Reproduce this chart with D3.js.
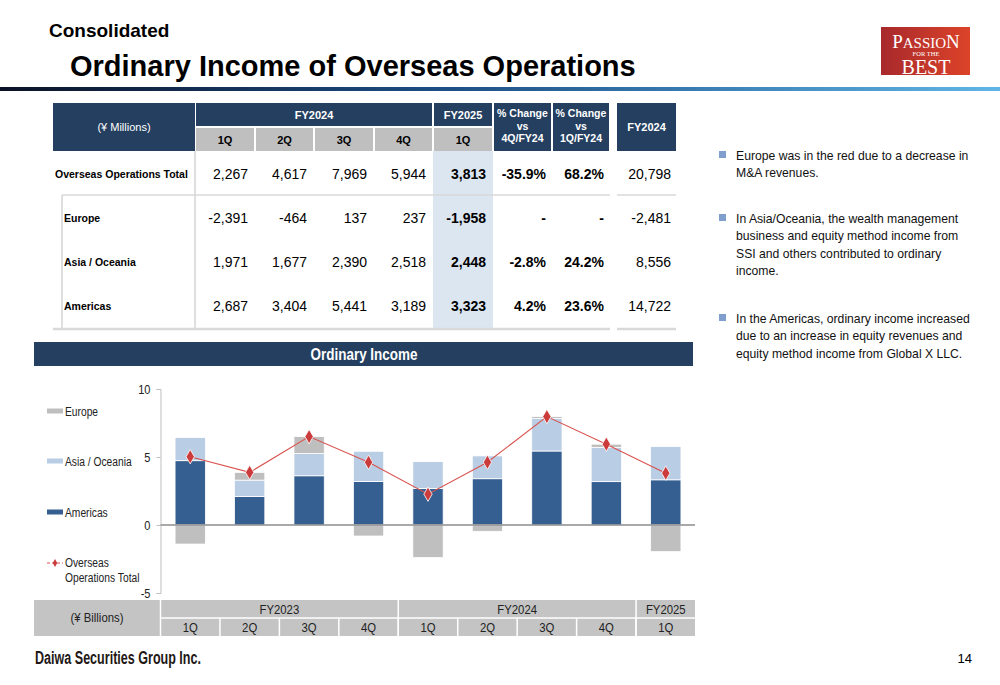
<!DOCTYPE html>
<html>
<head>
<meta charset="utf-8">
<script src="https://cdn.jsdelivr.net/npm/d3@7"></script>
<style>
  body { margin: 0; background: #fff; }
  svg text { font-family: "Liberation Sans", Arial, sans-serif; }
</style>
</head>
<body>
<script>
// ---- table data (¥ millions) ----
var tableRows = ["Overseas Operations Total", "Europe", "Asia / Oceania", "Americas"];
var rowTotal    = [2267, 4617, 7969, 5944, 3813];
var rowEurope   = [-2391, -464, 137, 237, -1958];
var rowAsia     = [1971, 1677, 2390, 2518, 2448];
var rowAmericas = [2687, 3404, 5441, 3189, 3323];
var chgVs4Q     = [-35.9, null, -2.8, 4.2];
var chgVs1Q     = [68.2, null, 24.2, 23.6];
var fy2024Full  = [20798, -2481, 8556, 14722];
var tableQuarters = ["1Q", "2Q", "3Q", "4Q"];

// ---- chart data (¥ billions) ----
var chartQuarters = ["1Q", "2Q", "3Q", "4Q", "1Q", "2Q", "3Q", "4Q", "1Q"];
var fiscalYears   = ["FY2023", "FY2024", "FY2025"];
var yearSpans     = [4, 4, 1];
var americas      = [4.73, 2.09, 3.62, 3.20, 2.687, 3.404, 5.441, 3.189, 3.323];
var asiaOceania   = [1.70, 1.21, 1.63, 2.22, 1.971, 1.677, 2.390, 2.518, 2.448];
var europe        = [-1.40, 0.57, 1.25, -0.81, -2.391, -0.464, 0.137, 0.237, -1.958];
var overseasTotal = [5.02, 3.87, 6.50, 4.61, 2.267, 4.617, 7.969, 5.944, 3.813];
var yTicks        = [10, 5, 0, -5];

var bullets = [
  ["Europe was in the red due to a decrease in", "M&A revenues."],
  ["In Asia/Oceania, the wealth management", "business and equity method income from", "SSI and others contributed to ordinary", "income."],
  ["In the Americas, ordinary income increased", "due to an increase in equity revenues and", "equity method income from Global X LLC."]
];

var navy = "#243F60", gray = "#BFBFBF";
var fmt = d3.formatLocale({decimal: ".", thousands: ",", grouping: [3], currency: ["", ""], minus: "-"});
var fmtInt = fmt.format(","), fmtPct = fmt.format(".1f");

// no narrow face installed, so squeeze the regular one
function narrow(sel, k) {
  sel.each(function() {
    var w = this.getComputedTextLength();
    d3.select(this).attr("textLength", w * (k || 0.82)).attr("lengthAdjust", "spacingAndGlyphs");
  });
}

var svg = d3.select("body").append("svg").attr("width", 1000).attr("height", 685);
var defs = svg.append("defs");

// ---- header ----
svg.append("text").attr("x", 49).attr("y", 37).attr("font-size", 19).attr("font-weight", "bold").text("Consolidated");
svg.append("text").attr("x", 70).attr("y", 76).attr("font-size", 29).attr("font-weight", "bold").text("Ordinary Income of Overseas Operations");

var g1 = defs.append("linearGradient").attr("id", "rule");
g1.append("stop").attr("offset", "0%").attr("stop-color", "#0a1228");
g1.append("stop").attr("offset", "45%").attr("stop-color", "#1d4f86");
g1.append("stop").attr("offset", "100%").attr("stop-color", "#5fb6e6");
svg.append("rect").attr("x", 0).attr("y", 87).attr("width", 1000).attr("height", 4).attr("fill", "url(#rule)");

var g2 = defs.append("linearGradient").attr("id", "logo");
g2.append("stop").attr("offset", "0%").attr("stop-color", "#a8292c");
g2.append("stop").attr("offset", "100%").attr("stop-color", "#dc4329");
svg.append("rect").attr("x", 881).attr("y", 27).attr("width", 89).attr("height", 48).attr("fill", "url(#logo)");
var logo = svg.append("g").attr("fill", "#fff").attr("text-anchor", "middle");
var l1 = logo.append("text").attr("x", 926).attr("y", 47.5).attr("font-size", 15).style("font-family", "'Liberation Serif', serif");
l1.append("tspan").attr("font-size", 19).text("P");
l1.append("tspan").text("ASSIO");
l1.append("tspan").attr("font-size", 19).text("N");
logo.append("text").attr("x", 926).attr("y", 56).attr("font-size", 6.5).style("font-family", "'Liberation Serif', serif").text("FOR THE");
logo.append("text").attr("x", 926).attr("y", 73.5).attr("font-size", 20).style("font-family", "'Liberation Serif', serif").text("BEST");

// ---- table ----
var colX = [195, 255, 314, 374, 433, 493, 552, 610];
var fyCol = [617, 676];
var tTop = 103, tMid = 127, tBot = 151, tEnd = 329;
var th = svg.append("g");
th.append("rect").attr("x", 53).attr("y", tTop).attr("width", colX[0] - 53).attr("height", tBot - tTop).attr("fill", navy);
th.append("text").attr("x", 124).attr("y", 131).attr("text-anchor", "middle").attr("font-size", 11).attr("fill", "#fff").text("(¥ Millions)");
th.append("rect").attr("x", colX[0] + 1).attr("y", tTop).attr("width", colX[4] - colX[0] - 2).attr("height", tMid - tTop - 1).attr("fill", navy);
th.append("text").attr("x", (colX[0] + colX[4]) / 2).attr("y", 119).attr("text-anchor", "middle").attr("font-size", 11).attr("font-weight", "bold").attr("fill", "#fff").text("FY2024");
th.append("rect").attr("x", colX[4] + 1).attr("y", tTop).attr("width", colX[5] - colX[4] - 2).attr("height", tMid - tTop - 1).attr("fill", navy);
th.append("text").attr("x", (colX[4] + colX[5]) / 2).attr("y", 119).attr("text-anchor", "middle").attr("font-size", 11).attr("font-weight", "bold").attr("fill", "#fff").text("FY2025");
tableQuarters.concat(["1Q"]).forEach(function(q, i) {
  th.append("rect").attr("x", colX[i] + 1).attr("y", tMid + 1).attr("width", colX[i + 1] - colX[i] - 2).attr("height", tBot - tMid - 1).attr("fill", gray);
  th.append("text").attr("x", (colX[i] + colX[i + 1]) / 2).attr("y", 143.5).attr("text-anchor", "middle").attr("font-size", 11).attr("font-weight", "bold").text(q);
});
[["4Q/FY24", 5], ["1Q/FY24", 6]].forEach(function(d) {
  var i = d[1], cx = (colX[i] + colX[i + 1]) / 2;
  th.append("rect").attr("x", colX[i] + 1).attr("y", tTop).attr("width", colX[i + 1] - colX[i] - 2).attr("height", tBot - tTop).attr("fill", navy);
  ["% Change", "vs", d[0]].forEach(function(s, k) {
    th.append("text").attr("x", cx).attr("y", 117 + k * 12.5).attr("text-anchor", "middle").attr("font-size", 10.5).attr("font-weight", "bold").attr("fill", "#fff").text(s);
  });
});
th.append("rect").attr("x", fyCol[0]).attr("y", tTop).attr("width", fyCol[1] - fyCol[0]).attr("height", tBot - tTop).attr("fill", navy);
th.append("text").attr("x", (fyCol[0] + fyCol[1]) / 2).attr("y", 131).attr("text-anchor", "middle").attr("font-size", 11).attr("font-weight", "bold").attr("fill", "#fff").text("FY2024");

var tb = svg.append("g");
tb.append("rect").attr("x", colX[4]).attr("y", tBot).attr("width", colX[5] - colX[4]).attr("height", tEnd - tBot).attr("fill", "#DCE6F1");
tb.append("line").attr("x1", colX[0]).attr("x2", colX[0]).attr("y1", tBot).attr("y2", tEnd).attr("stroke", "#BFBFBF");
tb.append("line").attr("x1", 62).attr("x2", 62).attr("y1", 195).attr("y2", tEnd).attr("stroke", "#BFBFBF");
[[62, colX[7]], fyCol].forEach(function(s) {
  tb.append("line").attr("x1", s[0]).attr("x2", s[1]).attr("y1", 195).attr("y2", 195).attr("stroke", "#D9D9D9").attr("stroke-width", 1.5);
});
[[53, colX[7]], fyCol].forEach(function(s) {
  tb.append("line").attr("x1", s[0]).attr("x2", s[1]).attr("y1", tEnd).attr("y2", tEnd).attr("stroke", "#D9D9D9").attr("stroke-width", 2.5);
});
var rowVals = [rowTotal, rowEurope, rowAsia, rowAmericas];
tableRows.forEach(function(name, r) {
  var yy = 179 + r * 44;
  tb.append("text").attr("x", r === 0 ? 55 : 64).attr("y", yy - 1).attr("font-size", 10.5).attr("font-weight", "bold").text(name);
  rowVals[r].forEach(function(v, i) {
    tb.append("text").attr("x", colX[i + 1] - 7).attr("y", yy).attr("text-anchor", "end").attr("font-size", 14)
      .attr("font-weight", i === 4 ? "bold" : null).text(fmtInt(v));
  });
  [chgVs4Q[r], chgVs1Q[r]].forEach(function(v, k) {
    tb.append("text").attr("x", colX[6 + k] - 6).attr("y", yy).attr("text-anchor", "end").attr("font-size", 14)
      .attr("font-weight", "bold").text(v == null ? "-" : fmtPct(v) + "%");
  });
  tb.append("text").attr("x", fyCol[1] - 5).attr("y", yy).attr("text-anchor", "end").attr("font-size", 14).text(fmtInt(fy2024Full[r]));
});

// ---- bullets ----
var bg = svg.append("g");
var paraY = [155, 218, 318];
bullets.forEach(function(lines, p) {
  bg.append("rect").attr("x", 719).attr("y", paraY[p] - 4).attr("width", 7).attr("height", 7).attr("fill", "#7F9FCF");
  lines.forEach(function(s, k) {
    bg.append("text").attr("x", 736).attr("y", paraY[p] + 4.5 + k * 17.5).attr("font-size", 12.2).attr("fill", "#111").text(s);
  });
});

// ---- chart ----
svg.append("rect").attr("x", 34).attr("y", 342).attr("width", 659).attr("height", 24).attr("fill", navy);
svg.append("text").attr("x", 364).attr("y", 359.5).attr("text-anchor", "middle")
  .attr("font-size", 16).attr("font-weight", "bold").attr("fill", "#fff").text("Ordinary Income").call(narrow, 0.84);

var x = d3.scaleBand().domain(d3.range(chartQuarters.length)).range([160.5, 695.5]).paddingInner(0.49).paddingOuter(0.245);
var xCell = d3.scaleBand().domain(d3.range(chartQuarters.length)).range([160.5, 695.5]);
var y = d3.scaleLinear().domain([-5, 10]).range([593, 389]);

var chartData = chartQuarters.map(function(q, i) {
  return {i: i, americas: americas[i], asia: asiaOceania[i], europe: europe[i]};
});
var series = d3.stack().keys(["americas", "asia", "europe"]).offset(d3.stackOffsetDiverging)(chartData);
var colors = {americas: "#365F91", asia: "#B9CDE5", europe: "#BFBFBF"};

var ax = svg.append("g").attr("transform", "translate(160.5,0)")
  .call(d3.axisLeft(y).tickValues(yTicks).tickSize(4).tickPadding(6).tickFormat(fmt.format("d")));
ax.select(".domain").attr("stroke", "#BFBFBF");
ax.selectAll(".tick line").attr("stroke", "#BFBFBF");
ax.selectAll(".tick text").attr("font-size", 13).attr("fill", "#222").style("font-family", "'Liberation Sans', Arial").call(narrow, 0.85);

svg.append("g").selectAll("g").data(series).join("g")
  .attr("fill", function(s) { return colors[s.key]; })
  .selectAll("rect").data(function(s) { return s; }).join("rect")
  .attr("x", function(d) { return x(d.data.i); })
  .attr("width", x.bandwidth())
  .attr("y", function(d) { return y(Math.max(d[0], d[1])); })
  .attr("height", function(d) { return Math.abs(y(d[0]) - y(d[1])); })
  .attr("stroke", "#fff").attr("stroke-width", 0.8);

svg.append("line").attr("x1", 160.5).attr("x2", 695).attr("y1", y(0)).attr("y2", y(0)).attr("stroke", "#8C8C8C").attr("stroke-width", 1.5);

var cx = function(i) { return x(i) + x.bandwidth() / 2; };
svg.append("path").datum(overseasTotal)
  .attr("d", d3.line().x(function(d, i) { return cx(i); }).y(function(d) { return y(d); }))
  .attr("fill", "none").attr("stroke", "#D9534F").attr("stroke-width", 1.1);
svg.append("g").selectAll("path").data(overseasTotal).join("path")
  .attr("transform", function(d, i) { return "translate(" + cx(i) + "," + y(d) + ")"; })
  .attr("d", d3.symbol(d3.symbolDiamond, 60))
  .attr("fill", "#CC3B3B").attr("stroke", "#fff").attr("stroke-width", 0.8);

// legend
var lg = svg.append("g");
[["Europe", colors.europe, 411], ["Asia / Oceania", colors.asia, 461], ["Americas", colors.americas, 512]].forEach(function(d) {
  lg.append("rect").attr("x", 47).attr("y", d[2] - 2.5).attr("width", 16).attr("height", 5).attr("fill", d[1]);
  lg.append("text").attr("x", 65).attr("y", d[2] + 4.5).attr("font-size", 12.5).attr("fill", "#222").text(d[0]).call(narrow, 0.82);
});
lg.append("line").attr("x1", 47).attr("x2", 63).attr("y1", 563).attr("y2", 563).attr("stroke", "#D9534F").attr("stroke-dasharray", "3,2");
lg.append("path").attr("transform", "translate(55,563)").attr("d", d3.symbol(d3.symbolDiamond, 18)).attr("fill", "#CC3B3B");
lg.append("text").attr("x", 65).attr("y", 567).attr("font-size", 12.5).attr("fill", "#222").text("Overseas").call(narrow, 0.82);
lg.append("text").attr("x", 65).attr("y", 582).attr("font-size", 12.5).attr("fill", "#222").text("Operations Total").call(narrow, 0.82);

// category table under the chart
var ct = svg.append("g");
var cTop = 600, cMid = 618, cBot = 636;
ct.append("rect").attr("x", 34).attr("y", cTop).attr("width", 661).attr("height", cBot - cTop).attr("fill", "#C4C4C4");
ct.append("text").attr("x", 97).attr("y", 622).attr("text-anchor", "middle").attr("font-size", 13.5).attr("fill", "#222").text("(¥ Billions)").call(narrow, 0.84);
ct.append("line").attr("x1", 160.5).attr("x2", 695).attr("y1", cMid).attr("y2", cMid).attr("stroke", "#fff").attr("stroke-width", 1.5);
ct.append("line").attr("x1", 160.5).attr("x2", 160.5).attr("y1", cTop).attr("y2", cBot).attr("stroke", "#fff").attr("stroke-width", 1.5);
var start = 0;
fiscalYears.forEach(function(fy, k) {
  var x0 = xCell(start), x1 = xCell(start + yearSpans[k] - 1) + xCell.bandwidth();
  ct.append("text").attr("x", (x0 + x1) / 2).attr("y", 614).attr("text-anchor", "middle").attr("font-size", 13.5).attr("fill", "#222").text(fy).call(narrow, 0.84);
  if (k > 0) ct.append("line").attr("x1", x0).attr("x2", x0).attr("y1", cTop).attr("y2", cBot).attr("stroke", "#fff").attr("stroke-width", 1.5);
  start += yearSpans[k];
});
chartQuarters.forEach(function(q, i) {
  if (i > 0) ct.append("line").attr("x1", xCell(i)).attr("x2", xCell(i)).attr("y1", cMid).attr("y2", cBot).attr("stroke", "#fff").attr("stroke-width", 1.5);
  ct.append("text").attr("x", xCell(i) + xCell.bandwidth() / 2).attr("y", 632).attr("text-anchor", "middle").attr("font-size", 13.5).attr("fill", "#222").text(q).call(narrow, 0.84);
});

// ---- footer ----
svg.append("text").attr("x", 35).attr("y", 664).attr("font-size", 17.5).attr("font-weight", "bold")
  .attr("fill", "#231815").attr("textLength", 166).attr("lengthAdjust", "spacingAndGlyphs").text("Daiwa Securities Group Inc.");
svg.append("text").attr("x", 972).attr("y", 663).attr("text-anchor", "end").attr("font-size", 13).text("14");
</script>
</body>
</html>
